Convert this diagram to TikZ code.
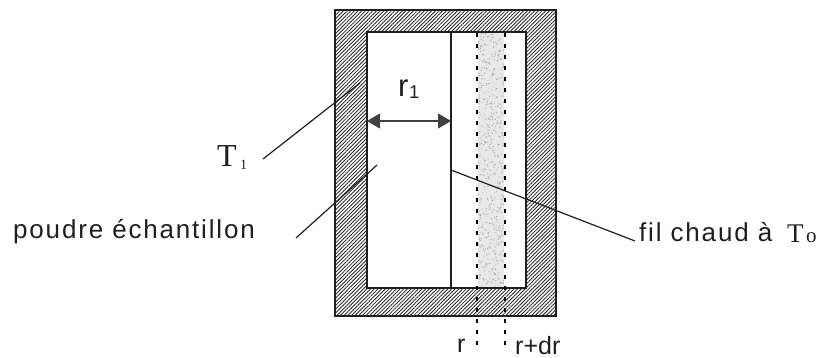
\documentclass[tikz,border=0pt]{standalone}
\usepackage{fontspec}
\setmainfont{Liberation Sans}
\newfontfamily\serifface{Liberation Serif}
\newfontfamily\spacedface[LetterSpace=7]{Liberation Sans}
\usetikzlibrary{patterns.meta,arrows.meta}
\tikzset{
  x=1pt,y=-1pt,
  wall/.style={draw=black!88,line width=2pt},
  wire/.style={draw=black!88,line width=1.6pt},
  leader/.style={draw=black!88,line width=1.2pt},
  dotline/.style={draw=black,line width=2.7pt,dash pattern=on 3.6pt off 7.4pt},
  lab/.style={inner sep=0pt,anchor=base west,text=black!88},
  hatch/.style={pattern={Lines[angle=45,distance=2.6pt,line width=0.85pt]},pattern color=black!85},
  dim/.style={draw=black!75,line width=1.1pt,{Triangle[length=13pt,width=15pt]}-{Triangle[length=13pt,width=15pt]},shorten >=0pt,shorten <=0pt}
}
\begin{document}
\begin{tikzpicture}
\useasboundingbox (0,0) rectangle (819,358);
% wall
\path[hatch,even odd rule] (335,10) rectangle (556,316) (367,32) rectangle (526,288);
\draw[wall] (335,10) rectangle (556,316);
% powder band
\fill[black!9] (478,33) rectangle (504,287);
\pgfmathsetseed{42}
\foreach \i in {1,...,600}{
  \pgfmathsetmacro{\px}{478+26*rnd}
  \pgfmathsetmacro{\py}{33+254*rnd}
  \pgfmathsetmacro{\sh}{16+22*rnd}
  \fill[black!\sh] (\px,\py) circle (0.7pt);
}
\draw[wall] (367,32) rectangle (526,288);
% named points
\coordinate (wT) at (451,32);
\coordinate (wB) at (451,288);
\coordinate (ra) at (477,33);
\coordinate (rb) at (477,346);
\coordinate (sa) at (505,33);
\coordinate (sb) at (505,348);
\coordinate (wi) at (367,121);
\coordinate (wo) at (451,121);
\coordinate (tEnd) at (360,83);
\coordinate (pEnd) at (377,165);
\coordinate (fStart) at (451,170);
% wire
\draw[wire] (wT) -- (wB);
% dotted
\draw[dotline] (ra) -- (rb);
\draw[dotline] (sa) -- (sb);
% dimension
\draw[dim] (wi) -- (wo);
% labels
\node[lab,font=\fontsize{31}{31}\selectfont] (rone) at (398,97) {r};
\node[lab,font=\fontsize{18.5}{18.5}\selectfont] (rsub) at (409,99) {1};
\node[lab,font=\serifface\fontsize{32}{32}\selectfont] (T) at (217,167) {T};
\node[lab,font=\serifface\fontsize{14}{14}\selectfont] (Tsub) at (240,170) {1};
\node[lab,font=\spacedface\fontsize{26}{26}\selectfont] (p) at (13,238) {poudre échantillon};
\node[lab,font=\spacedface\fontsize{26}{26}\selectfont] (f) at (639,241) {fil chaud à};
\node[lab,font=\serifface\fontsize{27}{27}\selectfont] (fT) at (787,242) {T};
\node[lab,font=\serifface\fontsize{21}{21}\selectfont] (fo) at (806,243) {o};
\node[lab,font=\fontsize{25}{25}\selectfont] (r) at (457,352) {r};
\node[lab,font=\fontsize{25}{25}\selectfont] (rdr) at (515,354) {r+dr};
% leaders
\coordinate (tS) at (263,159);
\coordinate (pS) at (296,238);
\coordinate (fE) at (635,241);
\draw[leader] (tS) -- (tEnd);
\draw[leader] (pS) -- (pEnd);
\draw[leader] (fStart) -- (fE);
\end{tikzpicture}
\end{document}
